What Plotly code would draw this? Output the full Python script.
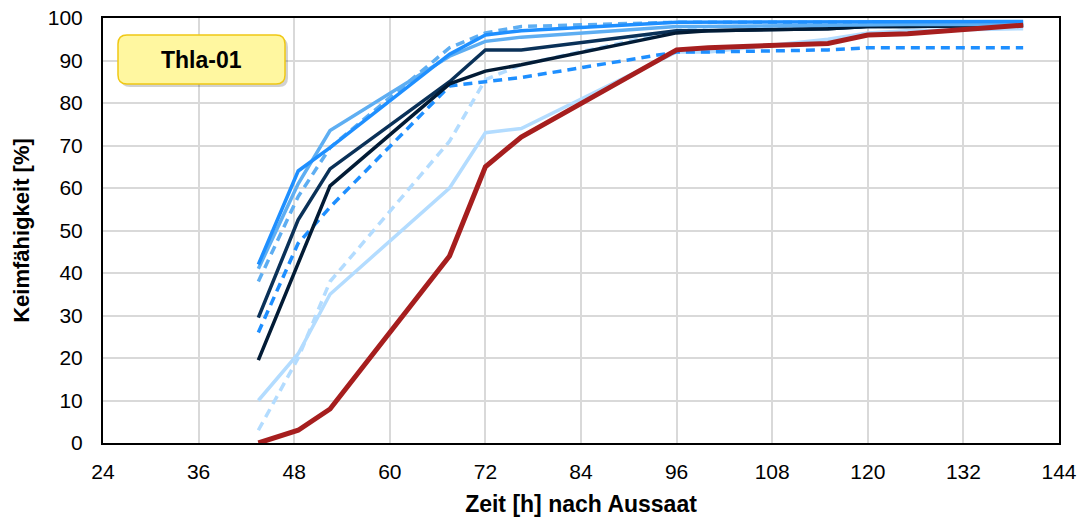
import plotly.graph_objects as go

# time points [h]
hours = [43.5, 48.5, 52.5, 67.5, 72, 76.5, 96, 100, 115, 120, 125, 139.5]

red_solid        = [0, 3, 8, 44, 65, 72, 92.5, 93, 94, 96, 96.3, 98.3]
lightblue_solid  = [10, 21, 35, 60, 73, 74, 92, 92, 95, 96.5, 97, 97.5]
lightblue_dash   = [3, 20, 38, 71, 85.5, 89, 97, 98, 98, 98, 98, 98.3]
blue_dash        = [26, 47, 55.5, 84, 85, 86, 92, 92, 92.5, 93, 93, 93]
navy_solid       = [29.5, 52.5, 64.5, 85, 92.5, 92.5, 97, 97, 97.5, 98, 98, 98.3]
darknavy_solid   = [19.5, 42.5, 60.5, 84.5, 87.5, 89, 96.5, 97, 97.5, 98, 98, 98.3]
midblue_dash     = [38, 58, 69.5, 93, 96.5, 98, 99, 99, 99, 99, 99, 99]
midblue_solid    = [41, 61, 73.5, 91, 94.5, 95.5, 98, 98, 98.3, 98.5, 98.5, 98.5]
blue_solid       = [42, 64, 69.5, 91.5, 96, 97, 99, 99, 99, 99, 99, 99.2]

x_ticks = [24, 36, 48, 60, 72, 84, 96, 108, 120, 132, 144]
y_ticks = [0, 10, 20, 30, 40, 50, 60, 70, 80, 90, 100]

series = [
    (lightblue_solid, "#B3DCFF", 3.5, "solid"),
    (lightblue_dash, "#B3DCFF", 3.5, "9px,6px"),
    (blue_dash, "#1E8FFF", 3.5, "9px,6px"),
    (navy_solid, "#0A3158", 3.5, "solid"),
    (darknavy_solid, "#021B35", 3.5, "solid"),
    (midblue_dash, "#5EAEF2", 3.5, "9px,6px"),
    (midblue_solid, "#5EAEF2", 3.5, "solid"),
    (blue_solid, "#1E8FFF", 3.5, "solid"),
    (red_solid, "#A61E1E", 5, "solid"),
]

fig = go.Figure()
for vals, col, w, dash in series:
    fig.add_trace(go.Scatter(x=hours, y=vals, mode="lines",
                             line=dict(color=col, width=w, dash=dash),
                             showlegend=False, hoverinfo="skip"))

FONT = "Liberation Sans, Arial, sans-serif"

# plot area in pixels
L, R, T, B = 103, 1059, 18, 443


def px2paper(px, py):
    return (px - L) / (R - L), (B - py) / (B - T)


def rounded(x0, y0, x1, y1, r):
    def p(px, py):
        a, b = px2paper(px, py)
        return f"{a:.5f},{b:.5f}"
    d = (f"M {p(x0+r, y0)} L {p(x1-r, y0)} Q {p(x1, y0)} {p(x1, y0+r)} "
         f"L {p(x1, y1-r)} Q {p(x1, y1)} {p(x1-r, y1)} "
         f"L {p(x0+r, y1)} Q {p(x0, y1)} {p(x0, y1-r)} "
         f"L {p(x0, y0+r)} Q {p(x0, y0)} {p(x0+r, y0)} Z")
    return d

shapes = [
    dict(type="path", xref="paper", yref="paper", path=rounded(121, 38, 288, 87, 9),
         fillcolor="rgba(0,0,0,0.18)", line=dict(width=0), layer="above"),
    dict(type="path", xref="paper", yref="paper", path=rounded(118, 35, 285, 84, 9),
         fillcolor="#FFF7A0", line=dict(color="#F0C814", width=1.5), layer="above"),
]
cx, cy = px2paper((118 + 285) / 2, (35 + 84) / 2)

fig.update_layout(
    width=1085, height=522,
    margin=dict(l=L, r=1085 - R, t=T, b=522 - B, autoexpand=False),
    paper_bgcolor="white", plot_bgcolor="white",
    font=dict(family=FONT, color="black", size=21),
    shapes=shapes,
    annotations=[dict(x=cx, y=cy, xref="paper", yref="paper", text="<b>Thla-01</b>",
                      xanchor="center", yanchor="middle",
                      showarrow=False, font=dict(size=23, family=FONT, color="black"))],
    xaxis=dict(range=[24, 144], tickvals=x_ticks, ticktext=[str(v) for v in x_ticks],
               showgrid=True, gridcolor="#D9D9D9", gridwidth=2, automargin=False,
               showline=True, linecolor="black", linewidth=2, mirror=True,
               zeroline=False, ticks="", ticklabelstandoff=9,
               tickfont=dict(size=21, family=FONT),
               title=dict(text="<b>Zeit [h] nach Aussaat</b>", font=dict(size=23, family=FONT), standoff=14)),
    yaxis=dict(range=[0, 100], tickvals=y_ticks, ticktext=[str(v) for v in y_ticks],
               showgrid=True, gridcolor="#D9D9D9", gridwidth=2, automargin=False,
               showline=True, linecolor="black", linewidth=2, mirror=True,
               zeroline=False, ticks="", ticklabelstandoff=14,
               tickfont=dict(size=21, family=FONT),
               title=dict(text="<b>Keimfähigkeit [%]</b>", font=dict(size=22, family=FONT), standoff=12)),
)

fig.write_html("out.html")
